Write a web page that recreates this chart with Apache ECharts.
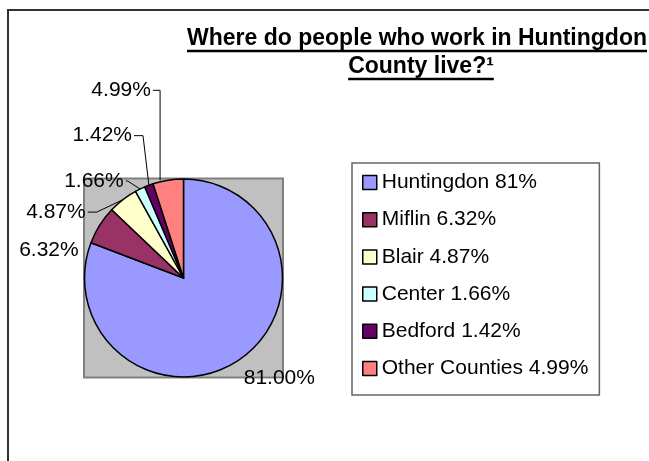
<!DOCTYPE html>
<html>
<head>
<meta charset="utf-8">
<script src="https://cdn.jsdelivr.net/npm/echarts@6/dist/echarts.min.js"></script>
<style>html,body{margin:0;padding:0;background:#fff}#c{width:649px;height:461px}</style>
</head>
<body>
<div id="c"></div>
<script>
var titleLines = ['Where do people who work in Huntingdon', 'County live?\u00B9'];
var categories = ['Huntingdon 81%', 'Miflin 6.32%', 'Blair 4.87%', 'Center 1.66%', 'Bedford 1.42%', 'Other Counties 4.99%'];
var values = [81.00, 6.32, 4.87, 1.66, 1.42, 4.99];
var sliceLabels = ['81.00%', '6.32%', '4.87%', '1.66%', '1.42%', '4.99%'];

var colors = ['#9999FF', '#993366', '#FFFFCC', '#CCFFFF', '#660066', '#FF8080'];
var lineStyles = [
  {show: false, length: 23, length2: 0},
  {show: false, length: 0, length2: 0},
  {show: true, length: 2, length2: 30},
  {show: true, length: 10, length2: 6},
  {show: true, length: 54, length2: 3},
  {show: true, length: 91, length2: 3}
];
// label nudges [dx, dy] and length of the short horizontal leg next to the text
var labelShift = [[-12, 0], [-18, 25], [-3, 14], [-3, 1], [8, 1], [3, 0]];
var legLength = [0, 0, 9, 2, 9, null];

var cx = 183.5, cy = 278, r = 99;
var font = '"Liberation Sans", Arial, sans-serif';

var chart = echarts.init(document.getElementById('c'), null, {renderer: 'canvas'});

function measure(t, f) {
  var cv = document.createElement('canvas').getContext('2d');
  cv.font = f;
  return cv.measureText(t).width;
}

var titleCenters = [417, 421], ty0 = 39, lh = 28;
var graphics = [
  {type: 'rect', z: -10, shape: {x: 8, y: 10, width: 700, height: 520}, style: {fill: '#fff', stroke: '#333', lineWidth: 2}},
  {type: 'rect', z: -5, shape: {x: cx - r - 0.5, y: cy - r - 0.5, width: 2 * r + 1, height: 2 * r + 1}, style: {fill: '#C0C0C0', stroke: '#808080', lineWidth: 2}}
];
titleLines.forEach(function (t, i) {
  var y = ty0 + i * lh, tcx = titleCenters[i];
  var w = measure(t, 'bold 23px "Liberation Sans"');
  graphics.push({type: 'text', z: 10, style: {text: t, x: tcx, y: y, align: 'center', verticalAlign: 'middle', font: 'bold 23px ' + font, fill: '#000'}});
  graphics.push({type: 'line', z: 10, shape: {x1: tcx - w / 2, y1: y + 12, x2: tcx + w / 2, y2: y + 12}, style: {stroke: '#000', lineWidth: 2.5}});
});

var data = values.map(function (v, i) {
  return {
    name: categories[i],
    value: v,
    itemStyle: {color: colors[i]},
    label: {formatter: sliceLabels[i]},
    labelLine: lineStyles[i]
  };
});

chart.setOption({
  animation: false,
  backgroundColor: '#fff',
  graphic: graphics,
  legend: {
    orient: 'vertical',
    left: 352,
    top: 163,
    padding: [9, 11, 16, 10],
    itemGap: 16.2,
    itemWidth: 14,
    itemHeight: 14,
    icon: 'rect',
    borderColor: '#666',
    borderWidth: 1.5,
    backgroundColor: '#fff',
    itemStyle: {borderColor: '#000', borderWidth: 1.5},
    textStyle: {fontFamily: font, fontSize: 21, color: '#000', lineHeight: 21},
    data: categories
  },
  series: [{
    type: 'pie',
    center: [cx, cy],
    radius: r,
    startAngle: 90,
    clockwise: true,
    avoidLabelOverlap: false,
    itemStyle: {borderColor: '#000', borderWidth: 1.5},
    emphasis: {disabled: true},
    label: {
      show: true,
      position: 'outside',
      fontFamily: font,
      fontSize: 21,
      color: '#000',
      distanceToLabelLine: 3
    },
    labelLine: {lineStyle: {color: '#000', width: 1}},
    labelLayout: function (p) {
      var i = p.dataIndex, s = labelShift[i];
      var out = {dx: s[0], dy: s[1]};
      var pts = p.labelLinePoints;
      if (pts && lineStyles[i].show) {
        var rect = p.labelRect;
        var end = [rect.x + rect.width + s[0] + 2, rect.y + rect.height / 2 + s[1]];
        var edge = pts[0];
        var mid = legLength[i] == null ? [edge[0] - 8, end[1]] : [end[0] + legLength[i], end[1]];
        var first = legLength[i] == null ? [edge[0] - 8, edge[1]] : edge;
        out.labelLinePoints = [first, mid, end];
      }
      return out;
    },
    data: data
  }]
});
</script>
</body>
</html>
